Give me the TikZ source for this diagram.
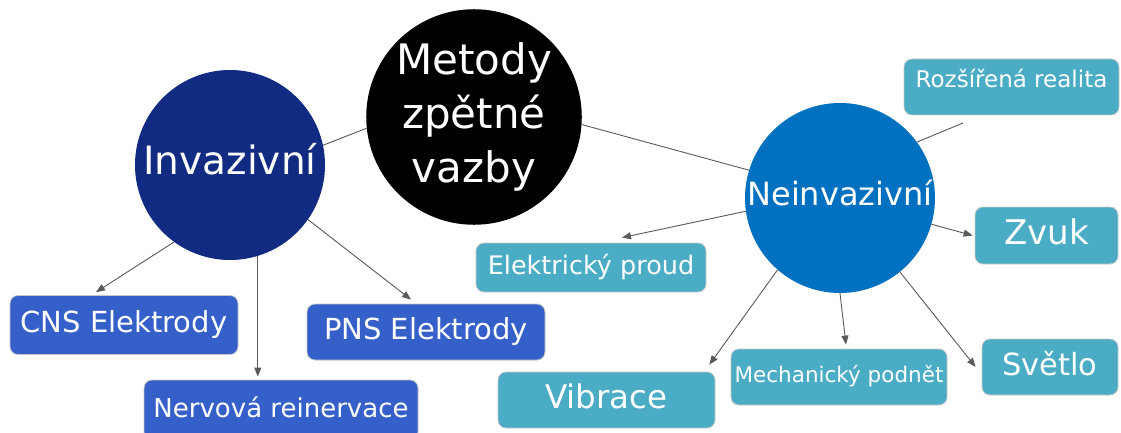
\documentclass[tikz,border=0pt]{standalone}
\usepackage{fontspec}
\setmainfont{DejaVu Sans}
\usetikzlibrary{arrows.meta}

\definecolor{navy}{HTML}{112B82}
\definecolor{neinblue}{HTML}{0070C0}
\definecolor{boxblue}{HTML}{355FC9}
\definecolor{boxteal}{HTML}{4BACC6}
\definecolor{linegray}{HTML}{595959}

\tikzset{
  bubble/.style={circle, inner sep=0pt, text=white, align=center},
  tag/.style={rectangle, rounded corners=8pt, draw=gray!45, line width=0.8pt,
    text=white, inner sep=0pt},
  fs/.style={font=\fontsize{#1}{#1}\selectfont, text height=0.74*#1pt, text depth=0.2*#1pt},
  invtag/.style={tag, fill=boxblue},
  neintag/.style={tag, fill=boxteal},
  link/.style={draw=linegray, line width=0.9pt},
  arr/.style={link, -{Triangle[length=9pt,width=7pt]}}
}

\begin{document}
\begin{tikzpicture}[x=1pt,y=-1pt]
\useasboundingbox (0,0) rectangle (1121,433);

% circles
\node[bubble, fill=black, minimum size=210pt, font=\fontsize{42}{54}\selectfont] (metody) at (474,117) {Metody\\zpětné\\vazby};
\node[bubble, fill=navy, minimum size=190pt, font=\fontsize{39}{46}\selectfont, text height=29pt, text depth=10pt] (inv) at (230,165) {Invazivní};
\node[bubble, fill=neinblue, minimum size=190pt, font=\fontsize{32}{38}\selectfont, text height=24pt, text depth=10pt] (nein) at (840,198) {Neinvazivní};

% invasive boxes
\node[invtag, minimum width=228pt, minimum height=59pt, fs=29] (cns) at (124,325) {CNS Elektrody};
\node[invtag, minimum width=238pt, minimum height=56pt, fs=29] (pns) at (426,332) {PNS Elektrody};
\node[invtag, minimum width=274pt, minimum height=60pt, fs=26] (nerv) at (281,410) {Nervová reinervace};

% non-invasive boxes
\node[neintag, minimum width=215pt, minimum height=56pt, font=\fontsize{23}{27}\selectfont, text height=29pt, text depth=27pt] (roz) at (1011.5,87) {Rozšířená realita};
\node[neintag, minimum width=143pt, minimum height=57pt, fs=34] (zvuk) at (1046.5,235.5) {Zvuk};
\node[neintag, minimum width=230pt, minimum height=49pt, fs=25.5] (elek) at (591,267.5) {Elektrický proud};
\node[neintag, minimum width=217pt, minimum height=56pt, fs=32.5] (vib) at (606.5,400) {Vibrace};
\node[neintag, minimum width=216pt, minimum height=56pt, fs=21.5] (mech) at (839,377) {Mechanický podnět};
\node[neintag, minimum width=136pt, minimum height=56pt, fs=30.5] (svet) at (1050,367) {Světlo};

\coordinate (rozend) at (963,123);

% links
\draw[link] (metody.186) -- (inv.12);
\draw[link] (metody.-4) -- (nein.163);
\draw[arr] (inv.-126) -- ([xshift=-28pt,yshift=3pt]cns.north);
\draw[arr, shorten >=3pt] (inv.-73) -- (inv.-73 |- nerv.north);
\draw[arr] (inv.-35) -- ([xshift=-15pt,yshift=4pt]pns.north);
\draw[link] (nein.36) -- (rozend);
\draw[arr] (nein.-16) -- ([xshift=-2pt]zvuk.west);
\draw[arr] (nein.188) -- ([xshift=31pt,yshift=5pt]elek.north);
\draw[arr] (nein.-131) -- ([xshift=-6pt,yshift=7pt]vib.north east);
\draw[arr] (nein.-90) -- ([xshift=7pt,yshift=4pt]mech.north);
\draw[arr] (nein.-51) -- ([xshift=-6pt]svet.west);
\end{tikzpicture}
\end{document}
